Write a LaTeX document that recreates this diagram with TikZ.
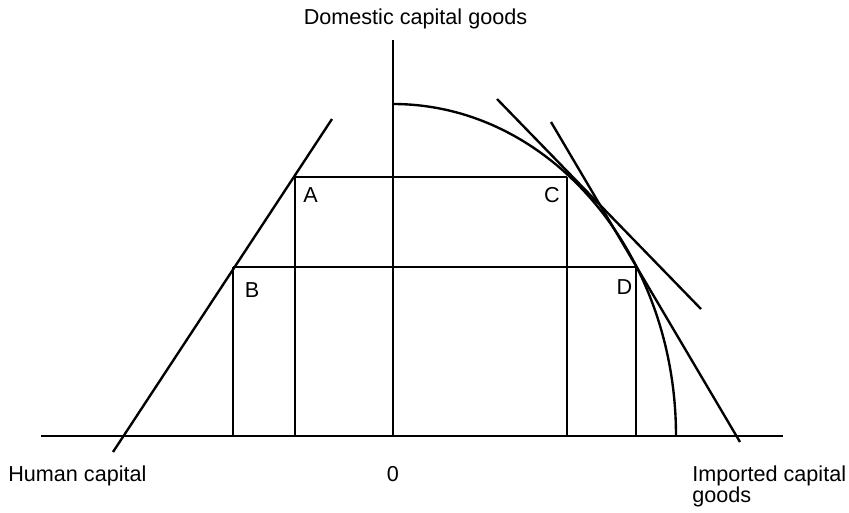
\documentclass[tikz,border=0pt]{standalone}
\usepackage{fontspec}
\setmainfont{Liberation Sans}
\usetikzlibrary{calc}

\begin{document}
\begin{tikzpicture}[
    x=0.02cm, y=0.02cm,
    ln/.style={line width=1.35pt},
    lbl/.style={font=\fontsize{12.3}{11.3}\selectfont, inner sep=0pt, align=left},
    pt/.style={font=\fontsize{12.3}{14}\selectfont, inner sep=0pt}
]
\useasboundingbox (0,0) rectangle (849,512);

% --- Axes ---
\coordinate (O)  at (393,76);
\coordinate (xl) at (41,76);
\coordinate (xr) at (783,76);
\coordinate (yt) at (393,472);
\draw[ln] (xl) -- (xr);
\draw[ln] (O) -- (yt);

% --- Corner points ---
\coordinate (A) at (295,335);
\coordinate (B) at (233,245);
\coordinate (C) at (567,335);
\coordinate (D) at (636,245);

% --- Frontier (quarter ellipse) ---
\coordinate (ft) at (393,408);
\draw[ln] (ft) arc[start angle=90, end angle=0, x radius=283, y radius=332];

% --- Human capital line ---
\coordinate (hl) at (113,60);
\coordinate (hu) at (332,393);
\draw[ln] (hl) -- (hu);

% --- Tangents at C and D ---
\coordinate (t1a) at (497,413);
\coordinate (t1b) at (701,203);
\coordinate (t2a) at (551,390);
\coordinate (t2b) at (740,70);
\draw[ln] (t1a) -- (t1b);
\draw[ln] (t2a) -- (t2b);

% --- Rectangles ---
\draw[ln] (A) -- (C);
\draw[ln] (B) -- (D);
\draw[ln] (A) -- (A |- O);
\draw[ln] (B) -- (B |- O);
\draw[ln] (C) -- (C |- O);
\draw[ln] (D) -- (D |- O);

% --- Point labels ---
\node[pt] (lA) at ([shift={(15.5,-18.5)}]A) {A};
\node[pt] (lB) at ([shift={(19,-23)}]B) {B};
\node[pt] (lC) at ([shift={(-15,-18.5)}]C) {C};
\node[pt] (lD) at ([shift={(-11.5,-20.5)}]D) {D};

% --- Axis labels ---
\node[pt, anchor=base] (dom) at (415.5,488) {Domestic capital goods};
\node[pt, anchor=base west] (hum) at (8,31) {Human capital};
\node[pt, anchor=base] (zero) at (O |- 0,31) {0};
\node[lbl, anchor=north west] (imp) at (692,47) {Imported capital\\goods};
\end{tikzpicture}
\end{document}
